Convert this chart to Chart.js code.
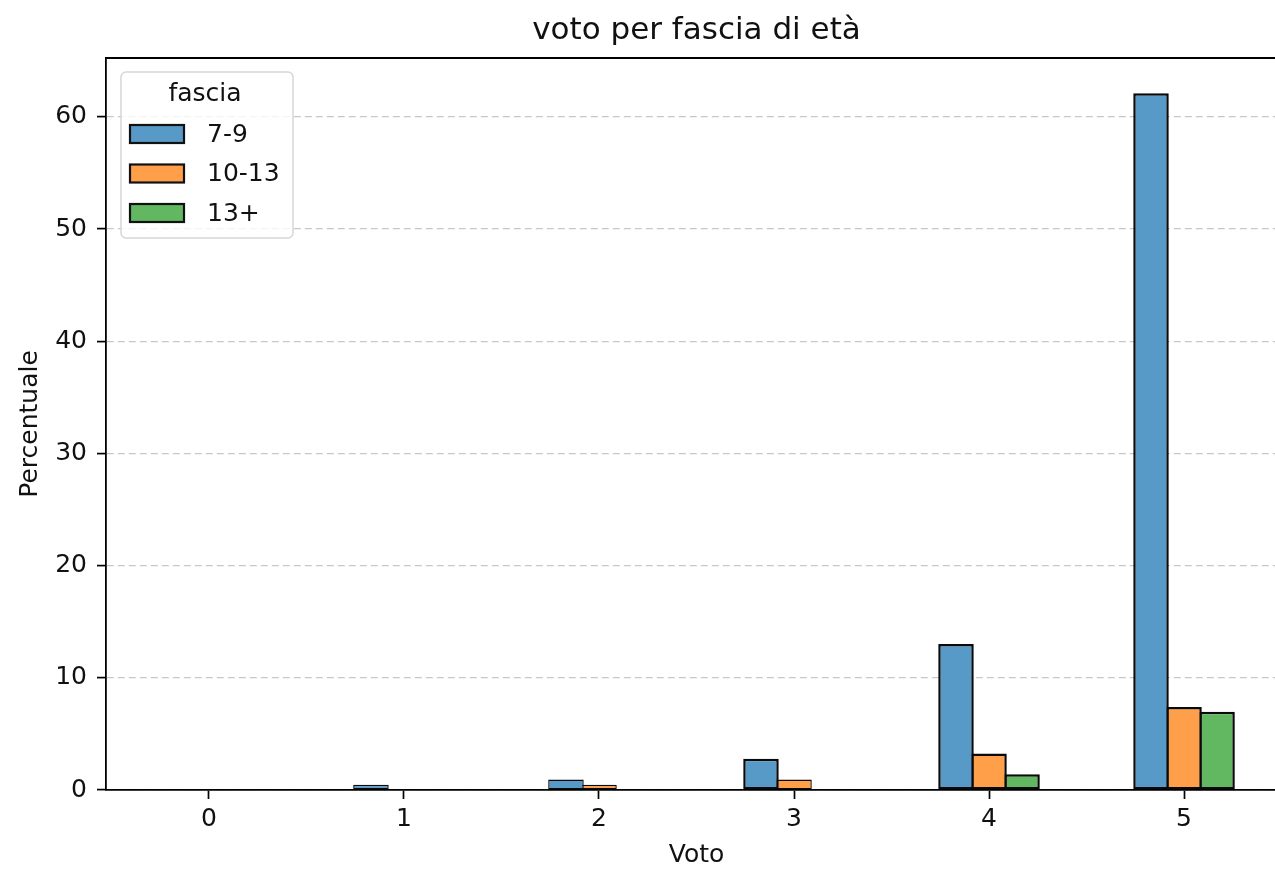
<!DOCTYPE html>
<html>
<head>
<meta charset="utf-8">
<title>voto per fascia di età</title>
<script src="https://cdn.jsdelivr.net/npm/chart.js@4"></script>
<style>
	html, body { margin: 0; padding: 0; overflow: hidden; background: #fff; }
	#wrap { width: 1290px; height: 871px; }
</style>
</head>
<body>
<div id="wrap"><canvas id="voti"></canvas></div>
<script>
// voti (asse x) e percentuali per fascia di età
const voti = [0, 1, 2, 3, 4, 5];
const fasce = ['7-9', '10-13', '13+'];
const perc_7_9 = [0, 0.47, 0.93, 2.79, 13.02, 62.1];
const perc_10_13 = [0, 0, 0.47, 0.93, 3.26, 7.4];
const perc_13_plus = [0, 0, 0, 0, 1.40, 6.98];
const y_ticks = [0, 10, 20, 30, 40, 50, 60];
const titolo_legenda = 'fascia';

Chart.defaults.font.family = '"DejaVu Sans", sans-serif';
Chart.defaults.color = '#111';

// zero -> null, così la barra non viene disegnata
const punti = (arr) => voti.map((v, i) => ({ x: v, y: arr[i] || null }));

// barre leggermente sovrapposte: il bordo in comune resta singolo
const barra = {
	borderColor: '#0a0a0a',
	// bordo più sottile sulle barre basse, altrimenti diventano tutte nere
	borderWidth: (c) => (c.raw && c.raw.y < 1.2 ? 1.4 : 2.5),
	borderSkipped: false,
	barPercentage: 1.076,
	categoryPercentage: 0.508,
};

const data_voti = {
	datasets: [
		{ ...barra, label: fasce[0], data: punti(perc_7_9), backgroundColor: '#5799c7' },
		{ ...barra, label: fasce[1], data: punti(perc_10_13), backgroundColor: '#ff9f4a' },
		{ ...barra, label: fasce[2], data: punti(perc_13_plus), backgroundColor: '#61b861' },
	]
};

// legenda dentro l'area del grafico + bordo superiore
const legendaFascia = {
	id: 'legendaFascia',
	afterDraw(chart) {
		const { ctx, chartArea } = chart;
		const x0 = chartArea.left + 15, y0 = chartArea.top + 14;
		ctx.save();
		ctx.beginPath();
		ctx.roundRect(x0, y0, 172, 166, 5);
		ctx.fillStyle = 'rgba(255,255,255,0.8)';
		ctx.fill();
		ctx.strokeStyle = '#d6d6d6';
		ctx.lineWidth = 1.5;
		ctx.stroke();

		ctx.font = '25px "DejaVu Sans"';
		ctx.textBaseline = 'middle';
		ctx.fillStyle = '#111';
		ctx.textAlign = 'center';
		ctx.fillText(titolo_legenda, x0 + 84, y0 + 22);
		ctx.textAlign = 'left';
		chart.data.datasets.forEach((ds, i) => {
			const cy = y0 + 62 + i * 39.5;
			ctx.fillStyle = ds.backgroundColor;
			ctx.fillRect(x0 + 9, cy - 9, 54, 18);
			ctx.strokeStyle = '#111';
			ctx.lineWidth = 2.2;
			ctx.strokeRect(x0 + 9, cy - 9, 54, 18);
			ctx.fillStyle = '#111';
			ctx.fillText(ds.label, x0 + 86, cy + 1);
		});

		ctx.beginPath();
		ctx.moveTo(chartArea.left, chartArea.top);
		ctx.lineTo(chartArea.right, chartArea.top);
		ctx.strokeStyle = '#000';
		ctx.lineWidth = 1.8;
		ctx.stroke();
		ctx.restore();
	}
};

const config_voti = {
	type: 'bar',
	data: data_voti,
	plugins: [legendaFascia],
	options: {
		responsive: true,
		maintainAspectRatio: false,
		animation: false,
		layout: { padding: { top: 0, left: 0, right: 3, bottom: 0 } },
		plugins: {
			legend: { display: false },
			tooltip: { enabled: false },
			title: {
				display: true,
				fullSize: false,
				text: 'voto per fascia di età',
				font: { size: 31, weight: 'normal', lineHeight: 1.2 },
				color: '#111',
				padding: { top: 12, bottom: 8.8 }
			}
		},
		scales: {
			x: {
				type: 'linear',
				offset: false,
				min: -0.528,
				max: 5.528,
				afterBuildTicks: (s) => { s.ticks = voti.map(v => ({ value: v })); },
				afterFit: (s) => { s.height = 81; },
				ticks: { font: { size: 25 }, padding: 5, color: '#111' },
				grid: {
					offset: false,
					drawOnChartArea: false,
					drawTicks: true,
					tickLength: 9,
					tickColor: '#000',
					tickWidth: 1.7
				},
				border: { display: true, color: '#000', width: 1.8 },
				title: {
					display: true,
					text: 'Voto',
					font: { size: 25, lineHeight: 1.2 },
					color: '#111',
					padding: { top: 0, bottom: 1 }
				}
			},
			y: {
				min: 0,
				max: 65.25,
				afterBuildTicks: (s) => { s.ticks = y_ticks.map(v => ({ value: v })); },
				afterFit: (s) => { s.width = 106; },
				ticks: { font: { size: 25 }, padding: 10, color: '#111' },
				grid: {
					color: '#c8c8c8',
					lineWidth: 1.2,
					drawTicks: true,
					tickLength: 9,
					tickColor: '#000',
					tickWidth: 1.7,
					tickBorderDash: []
				},
				border: { display: true, color: '#000', width: 1.8, dash: [7, 4] },
				title: {
					display: true,
					text: 'Percentuale',
					font: { size: 25, lineHeight: 1.2 },
					color: '#111',
					padding: { top: 15, bottom: 0 }
				}
			}
		}
	}
};

const grafico = new Chart(
	document.getElementById('voti'),
	config_voti
);
</script>
</body>
</html>
